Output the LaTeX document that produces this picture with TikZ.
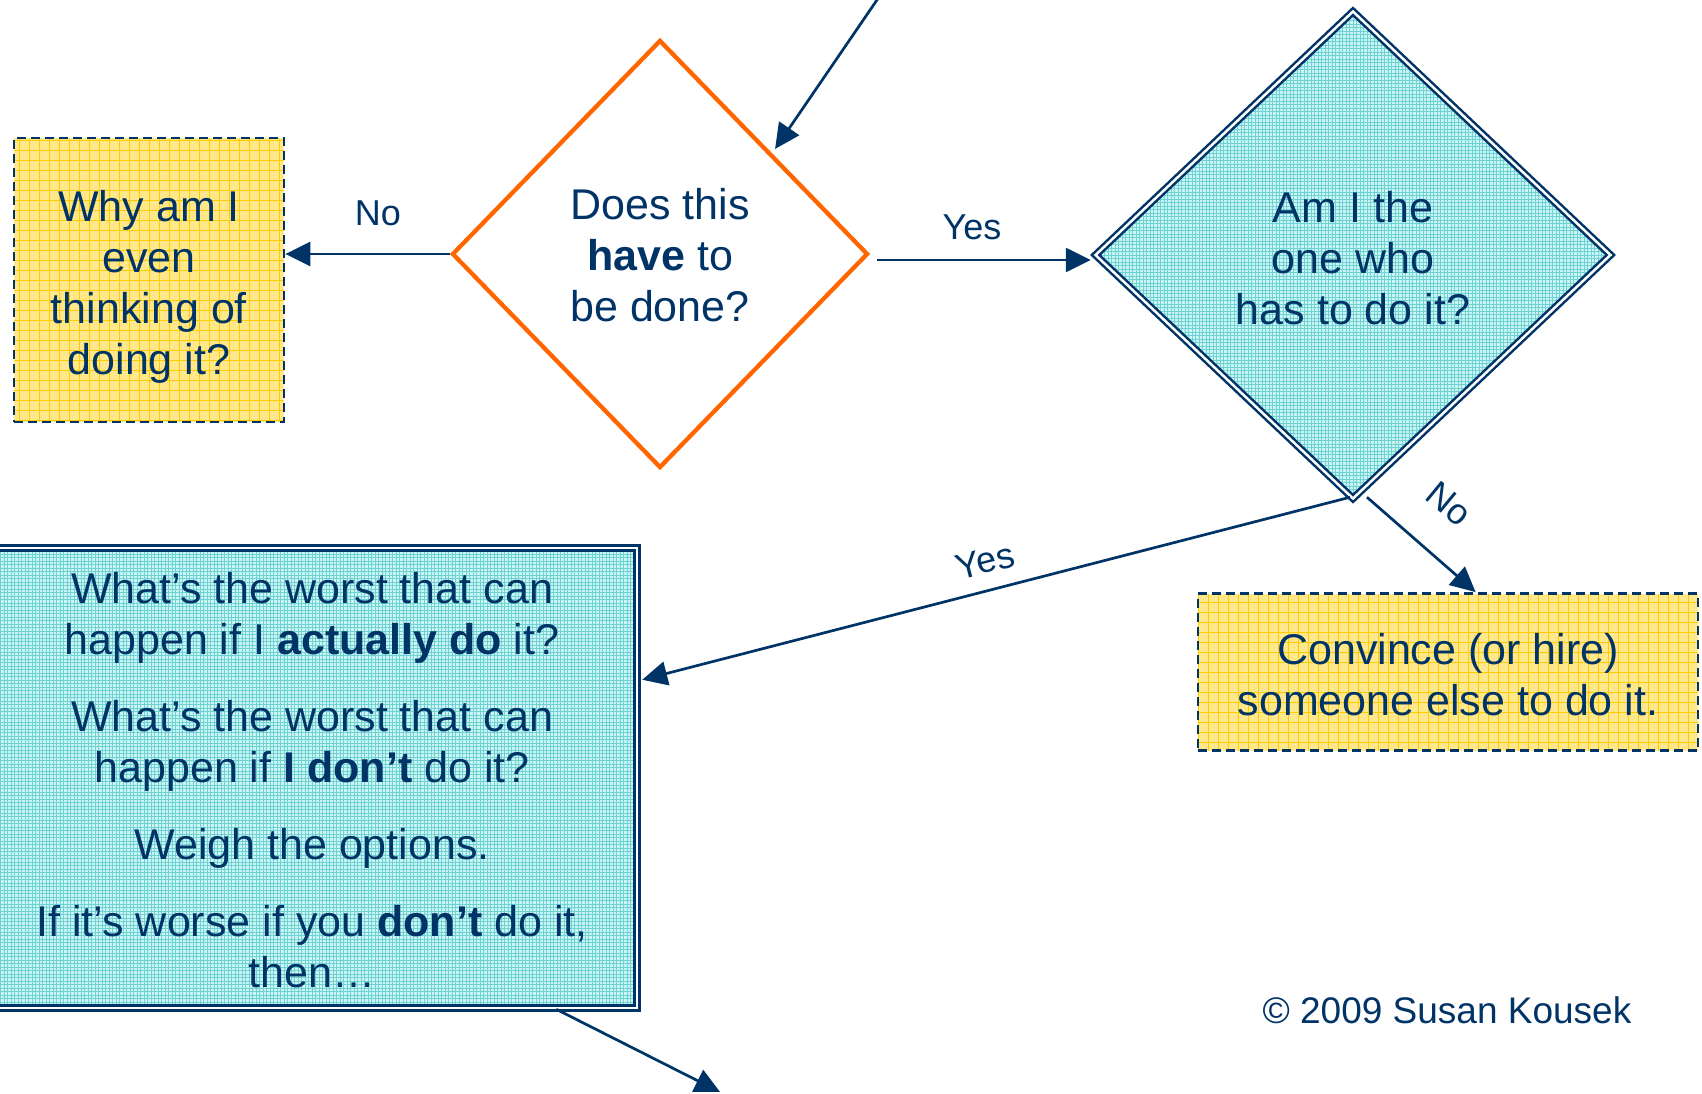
\documentclass[tikz,border=0pt]{standalone}
\usepackage{fontspec}
\setmainfont{Liberation Sans}
\usetikzlibrary{shapes.geometric,arrows.meta,calc}
\definecolor{navy}{RGB}{0,51,102}
\definecolor{orng}{RGB}{255,102,0}
\definecolor{yfill}{RGB}{255,232,140}
\definecolor{ygrid}{RGB}{255,204,0}
\definecolor{tfill}{RGB}{205,245,245}
\definecolor{tgrid}{RGB}{110,210,210}
\begin{document}
\begin{tikzpicture}[x=1pt,y=-1pt,
  every node/.style={text=navy, font=\fontsize{43}{51}\selectfont, inner sep=0pt, align=center},
  lbl/.style={font=\fontsize{36}{43}\selectfont},
  ybox/.style={rectangle, draw=navy, line width=2.8pt, dash pattern=on 9pt off 5pt, fill=yfill,
    path picture={\draw[ygrid,line width=0.7pt,step=10pt,solid] (path picture bounding box.south west) grid (path picture bounding box.north east);}},
  tshape/.style={draw=navy, line width=2.5pt, double=white, double distance=2.5pt, fill=tfill,
    path picture={\draw[tgrid,line width=0.6pt,step=3.5pt] (path picture bounding box.south west) grid (path picture bounding box.north east);}},
  arr/.style={draw=navy, line width=2.7pt, -{Triangle[length=25pt,width=24pt]}}
]
\useasboundingbox (0,0) rectangle (1702,1094);
\clip (0,0) rectangle (1702,1094);

% shapes
\node[ybox, minimum width=270pt, minimum height=284pt] (why) at (149,280) {};
\node[diamond, draw=orng, line width=4.3pt, fill=white, minimum width=416pt, minimum height=428pt] (d1) at (660,254) {};
\node[diamond, tshape, minimum width=516pt, minimum height=488pt] (d2) at (1353,255) {};
\node[ybox, minimum width=500pt, minimum height=157pt] (conv) at (1448,672) {};
\node[rectangle, tshape, minimum width=650pt, minimum height=460pt] (big) at (312,778) {};

% texts
\node (whyt) at (149,286.5) {Why am I\\even\\thinking of\\doing it?};
\node (d1t) at (660,255) {Does this\\\textbf{have} to\\be done?};
\node (d2t) at (1353,258.5) {Am I the\\one who\\has to do it?};
\node (convt) at (1448,675) {Convince (or hire)\\someone else to do it.};
\node (bigt) at (312,780) 
  {What’s the worst that can\\happen if I \textbf{actually do} it?\\[26pt]
   What’s the worst that can\\happen if \textbf{I don’t} do it?\\[26pt]
   Weigh the options.\\[26pt]
   If it’s worse if you \textbf{don’t} do it,\\then…};
\node[font=\fontsize{37}{44}\selectfont] (copy) at (1447,1010) {© 2009 Susan Kousek};

% connectors
\coordinate (topin) at (892,-22);
\coordinate (botout) at (720,1092);
\draw[arr] (topin) -- ($(d1.north east)+(10,3)$);
\draw[arr] (d1.west) -- (d1.west -| why.east);
\draw[arr] ($(d1.east)+(7,6)$) -- ($(d2.west)+(-3,5)$);
\draw[arr] ($(d2.south)+(-3,-3)$) -- ($(big.north east)+(4,133)$);
\draw[arr] ($(d2.south)+(14,-3)$) -- ($(conv.north west)+(279,0)$);
\draw[arr] ($(big.south east)+(-82,0)$) -- (botout);

% labels
\node[lbl] (no1) at (378,213) {No};
\node[lbl] (yes1) at (972,227) {Yes};
\node[lbl, rotate=14.3] (yes2) at (985,561) {Yes};
\node[lbl, rotate=-39.5] (no2) at (1449,504) {No};
\end{tikzpicture}
\end{document}
